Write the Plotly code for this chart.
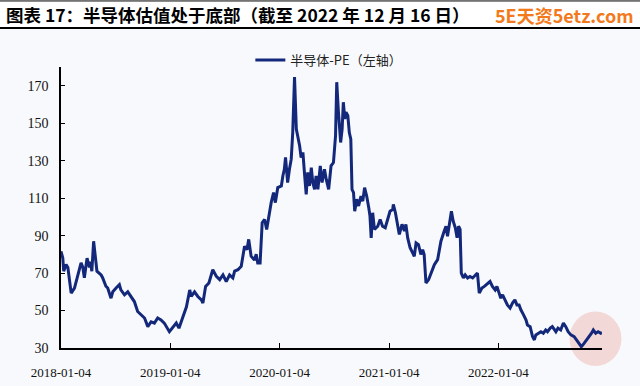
import plotly.graph_objects as go

dates = [
    "2018-01-04", "2018-01-10", "2018-01-13", "2018-01-21", "2018-01-27", "2018-02-07", "2018-02-18",
    "2018-03-01", "2018-03-12", "2018-03-18", "2018-03-23", "2018-04-01", "2018-04-09", "2018-04-12",
    "2018-04-17", "2018-04-23", "2018-04-28", "2018-05-04", "2018-05-18", "2018-05-23", "2018-06-03",
    "2018-06-09", "2018-06-20", "2018-06-26", "2018-07-07", "2018-07-18", "2018-07-23", "2018-08-04",
    "2018-08-15", "2018-08-26", "2018-09-06", "2018-09-17", "2018-09-28", "2018-10-10", "2018-10-21",
    "2018-11-01", "2018-11-12", "2018-11-23", "2018-12-04", "2018-12-15", "2019-01-01",
    "2019-01-13", "2019-01-24", "2019-02-02", "2019-02-15", "2019-02-27", "2019-03-10", "2019-03-15",
    "2019-03-26", "2019-04-06", "2019-04-18", "2019-04-23", "2019-05-02", "2019-05-13", "2019-05-26",
    "2019-06-07", "2019-06-18", "2019-06-29", "2019-07-10", "2019-07-21", "2019-08-01", "2019-08-07",
    "2019-08-18", "2019-08-29", "2019-09-09", "2019-09-17", "2019-09-23", "2019-10-01", "2019-10-12",
    "2019-10-18", "2019-10-23", "2019-10-31", "2019-11-07", "2019-11-15", "2019-11-22", "2019-12-01",
    "2019-12-07", "2019-12-15", "2019-12-21", "2019-12-29", "2020-01-10", "2020-01-15",
    "2020-01-20", "2020-01-24", "2020-01-31", "2020-02-06", "2020-02-12", "2020-02-17", "2020-02-23",
    "2020-02-29", "2020-03-05", "2020-03-11", "2020-03-16", "2020-03-22", "2020-03-27", "2020-04-02",
    "2020-04-07", "2020-04-13", "2020-04-19", "2020-04-24", "2020-04-30", "2020-05-05", "2020-05-11",
    "2020-05-19", "2020-05-25", "2020-06-02", "2020-06-08", "2020-06-16", "2020-06-24", "2020-07-02",
    "2020-07-09", "2020-07-13", "2020-07-18", "2020-07-22", "2020-07-26", "2020-07-31", "2020-08-04",
    "2020-08-09", "2020-08-13", "2020-08-19", "2020-08-24", "2020-08-29", "2020-09-02", "2020-09-07",
    "2020-09-11", "2020-09-18", "2020-09-24", "2020-10-02", "2020-10-08", "2020-10-14", "2020-10-21",
    "2020-10-28", "2020-11-01", "2020-11-05", "2020-11-10", "2020-11-16", "2020-11-27", "2020-12-05",
    "2020-12-13", "2020-12-22", "2020-12-30", "2021-01-07", "2021-01-16",
    "2021-01-18", "2021-01-25", "2021-02-01", "2021-02-07", "2021-02-16", "2021-02-24", "2021-03-01",
    "2021-03-07", "2021-03-15", "2021-03-21", "2021-03-29", "2021-04-04", "2021-04-12", "2021-04-20",
    "2021-04-26", "2021-05-01", "2021-05-07", "2021-05-16", "2021-05-24", "2021-06-04", "2021-06-15",
    "2021-06-26", "2021-07-07", "2021-07-13", "2021-07-18", "2021-07-24", "2021-07-31", "2021-08-06",
    "2021-08-13", "2021-08-19", "2021-08-24", "2021-08-29", "2021-09-02", "2021-09-09", "2021-09-15",
    "2021-09-23", "2021-10-01", "2021-10-10", "2021-10-19", "2021-10-26", "2021-11-01", "2021-11-10",
    "2021-11-18", "2021-11-29", "2021-12-07", "2021-12-15", "2021-12-24", "2021-12-30",
    "2022-01-07", "2022-01-12", "2022-01-18", "2022-01-26", "2022-02-03", "2022-02-12", "2022-02-20",
    "2022-02-28", "2022-03-07", "2022-03-14", "2022-03-20", "2022-03-29", "2022-04-06", "2022-04-11",
    "2022-04-20", "2022-04-28", "2022-05-04", "2022-05-09", "2022-05-17", "2022-05-26", "2022-06-03",
    "2022-06-11", "2022-06-17", "2022-06-26", "2022-07-03", "2022-07-15", "2022-07-22", "2022-07-31",
    "2022-08-09", "2022-08-17", "2022-08-25", "2022-09-03", "2022-09-14", "2022-09-25", "2022-10-08",
    "2022-10-17", "2022-10-26", "2022-11-03", "2022-11-11", "2022-11-17", "2022-11-25", "2022-12-03",
    "2022-12-12", "2022-12-16",
]

pe = [
    81.6, 78.0, 71.0, 74.5, 73.0, 59.3, 62.0,
    69.0, 75.5, 73.0, 67.5, 78.0, 73.0, 76.0,
    71.0, 87.0, 78.0, 71.0, 69.0, 67.5, 63.0,
    62.0, 56.6, 60.0, 62.0, 63.8, 61.0, 58.4,
    60.0, 57.5, 54.8, 49.5, 47.7, 46.0, 41.4,
    44.0, 43.3, 46.0, 45.0, 43.3, 38.7,
    41.4, 43.3, 40.6, 46.8, 52.0, 61.0, 57.5,
    60.0, 57.5, 55.7, 54.0, 62.9, 64.7, 71.8,
    68.2, 66.5, 69.0, 65.5, 69.0, 67.4, 71.0,
    71.8, 73.6, 84.3, 82.5, 88.0, 79.0, 77.0,
    80.0, 75.4, 75.4, 96.9, 98.6, 93.3, 102.0,
    107.6, 113.0, 107.6, 115.6, 116.5, 121.8,
    125.4, 131.7, 118.3, 125.4, 130.8, 145.0, 174.6,
    146.9, 143.3, 138.0, 131.7, 134.4, 123.7, 112.0,
    123.7, 116.5, 126.3, 118.3, 114.7, 121.8, 114.7,
    127.2, 118.3, 125.4, 120.0, 114.7, 127.2, 129.0,
    143.3, 171.9, 157.6, 146.9, 139.7, 146.9, 161.2,
    152.2, 155.8, 154.0, 145.0, 141.5, 114.7, 113.0,
    103.0, 109.4, 105.8, 111.1, 108.4, 115.6, 111.1,
    104.9, 100.4, 88.8, 102.2, 93.3, 95.0, 98.6,
    95.0, 94.2, 98.6, 103.0, 104.0,
    106.7, 102.2, 96.9, 90.6, 96.0, 92.4, 96.0,
    88.8, 83.5, 81.6, 79.0, 86.1, 85.2, 79.9,
    82.5, 79.9, 64.7, 66.5, 70.0, 74.5, 77.2,
    87.0, 92.4, 95.0, 89.7, 96.9, 103.0, 97.7,
    94.2, 88.8, 95.0, 93.3, 70.0, 67.4, 69.0,
    67.4, 68.2, 67.4, 69.0, 70.0, 59.3, 62.0,
    62.9, 64.7, 65.5, 62.9, 61.0, 62.9,
    59.3, 56.6, 58.4, 55.7, 53.0, 51.3, 54.0,
    55.7, 53.0, 53.0, 50.4, 47.7, 45.0, 42.3,
    41.4, 36.1, 34.3, 37.0, 37.9, 38.7, 37.9,
    39.6, 38.7, 40.6, 41.4, 38.7, 40.6, 39.6,
    43.3, 41.4, 38.7, 37.0, 36.1, 33.4, 30.7,
    32.5, 34.3, 36.1, 37.9, 39.6, 37.9, 38.7,
    37.9, 38.2,
]

x_tick_vals = ["2018-01-04", "2019-01-04", "2020-01-04", "2021-01-04", "2022-01-04"]
x_tick_text = ["2018-01-04", "2019-01-04", "2020-01-04", "2021-01-04", "2022-01-04"]
y_ticks = [30, 50, 70, 90, 110, 130, 150, 170]

title_text = "<b>图表 17：半导体估值处于底部（截至 2022 年 12 月 16 日）</b>"
series_name = "半导体-PE（左轴）"
watermark = "<b>5E天资5etz.com</b>"

BG = "#f8f9fc"
LINE = "#13287a"

fig = go.Figure()
fig.add_trace(go.Scatter(
    x=dates, y=pe, mode="lines", name=series_name,
    line=dict(color=LINE, width=3),
    showlegend=True,
))

fig.update_layout(
    width=640, height=386,
    margin=dict(l=61, r=38, t=67, b=38, autoexpand=False),
    paper_bgcolor=BG, plot_bgcolor=BG,
    font=dict(family="Liberation Serif", size=13, color="#111111"),
    showlegend=True,
    legend=dict(
        orientation="h", x=0.35, xanchor="left", y=1.025, yanchor="middle",
        bgcolor="rgba(0,0,0,0)",
        font=dict(family="Noto Sans CJK SC", size=13, color="#222222"),
        itemwidth=30,
    ),
    xaxis=dict(
        type="date", range=["2018-01-04", "2022-12-16"],
        tickmode="array", tickvals=x_tick_vals, ticktext=x_tick_text,
        ticks="inside", ticklen=5, tickcolor="#000000", tickwidth=1,
        showline=True, linecolor="#000000", linewidth=1.5,
        showgrid=False, zeroline=False, automargin=False,
        tickfont=dict(family="Liberation Serif", size=13, color="#111111"),
        ticklabelstandoff=12,
    ),
    yaxis=dict(
        range=[30, 180], tickmode="array", tickvals=y_ticks,
        ticks="inside", ticklen=4, tickcolor="#000000", tickwidth=1,
        showline=True, linecolor="#000000", linewidth=1.5,
        showgrid=False, zeroline=False, automargin=False,
        tickfont=dict(family="Liberation Serif", size=14, color="#111111"),
        ticklabelstandoff=8,
    ),
    shapes=[
        dict(type="rect", xref="paper", yref="paper", x0=-0.113, x1=1.071, y0=1.139, y1=1.24,
             fillcolor="#ffffff", line=dict(width=0), layer="below"),
        dict(type="line", xref="paper", yref="paper", x0=-0.113, x1=1.071, y0=1.235, y1=1.235,
             line=dict(color="#000000", width=1)),
        dict(type="line", xref="paper", yref="paper", x0=-0.113, x1=1.071, y0=1.139, y1=1.139,
             line=dict(color="#000000", width=2)),
        dict(type="circle", xref="paper", yref="paper", x0=0.940, x1=1.036, y0=-0.064, y1=0.13,
             fillcolor="rgba(238,200,195,0.65)", line=dict(width=0), layer="below"),
    ],
    annotations=[
        dict(text=title_text, xref="paper", yref="paper", x=-0.106, y=1.188,
             xanchor="left", yanchor="middle", showarrow=False,
             font=dict(family="Noto Sans CJK SC", size=17.5, color="#000000")),
        dict(text=watermark, xref="paper", yref="paper", x=1.062, y=1.185,
             xanchor="right", yanchor="middle", showarrow=False,
             font=dict(family="Noto Sans CJK SC", size=18, color="#f27a1c")),
    ],
)

# remove the browser's default 8px body margin so the 640x386 figure fills the window
fig.write_html("out.html", config={"displayModeBar": False},
               post_script="document.body.style.margin='0';")
